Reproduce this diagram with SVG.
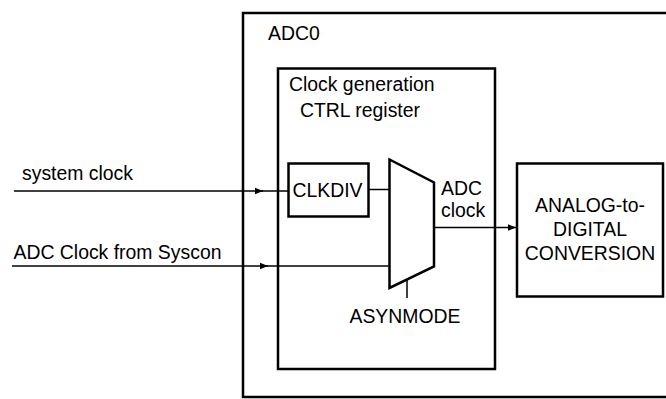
<svg xmlns="http://www.w3.org/2000/svg" width="666" height="399" viewBox="0 0 666 399">
<style>
text{font-family:"Liberation Sans",Arial,sans-serif;font-size:19.4px;fill:#000}
.box{fill:none;stroke:#000;stroke-width:2.5}
.wire{fill:none;stroke:#000;stroke-width:1.5}
</style>
<defs>
<marker id="arr" viewBox="0 0 10 10" refX="10" refY="5" markerWidth="8" markerHeight="8" markerUnits="userSpaceOnUse" orient="auto">
<path d="M0,1 L10,5 L0,9 z" fill="#000"/>
</marker>
</defs>
<rect width="666" height="399" fill="#fff"/>
<g id="adc0">
<rect class="box" x="243" y="13" width="430" height="384" stroke-width="2"/>
<text x="268" y="40">ADC0</text>
</g>
<g id="clockgen">
<rect class="box" x="278" y="68.5" width="217" height="300.5" stroke-width="3"/>
<text x="289" y="91">Clock generation</text>
<text x="300" y="117">CTRL register</text>
</g>
<g id="clkdiv">
<rect class="box" x="288.5" y="163.5" width="80" height="53"/>
<text x="292.5" y="197">CLKDIV</text>
</g>
<g id="mux">
<path class="box" d="M389.5,159.5 L434,182.5 L434,266.5 L389.5,288 Z"/>
</g>
<g id="adc">
<rect class="box" x="517" y="163.5" width="146" height="133"/>
<text x="590" y="211.5" text-anchor="middle">ANALOG-to-</text>
<text x="590" y="235.5" text-anchor="middle">DIGITAL</text>
<text x="590" y="260" text-anchor="middle">CONVERSION</text>
</g>
<g id="labels">
<text x="22" y="180">system clock</text>
<text x="13.5" y="259">ADC Clock from Syscon</text>
<text x="441" y="195">ADC</text>
<text x="441" y="217">clock</text>
<text x="349.5" y="323">ASYNMODE</text>
</g>
<g id="connectors">
<line class="wire" x1="14" y1="191" x2="263" y2="191" marker-end="url(#arr)"/>
<line class="wire" x1="262" y1="191" x2="288.5" y2="191"/>
<line class="wire" x1="12" y1="266" x2="268" y2="266" marker-end="url(#arr)"/>
<line class="wire" x1="267" y1="266" x2="389.5" y2="266"/>
<line class="wire" x1="368.5" y1="189.5" x2="389.5" y2="189.5"/>
<line class="wire" x1="434" y1="227.5" x2="516" y2="227.5" marker-end="url(#arr)"/>
<line class="wire" x1="407" y1="279.5" x2="407" y2="298"/>
</g>
</svg>
